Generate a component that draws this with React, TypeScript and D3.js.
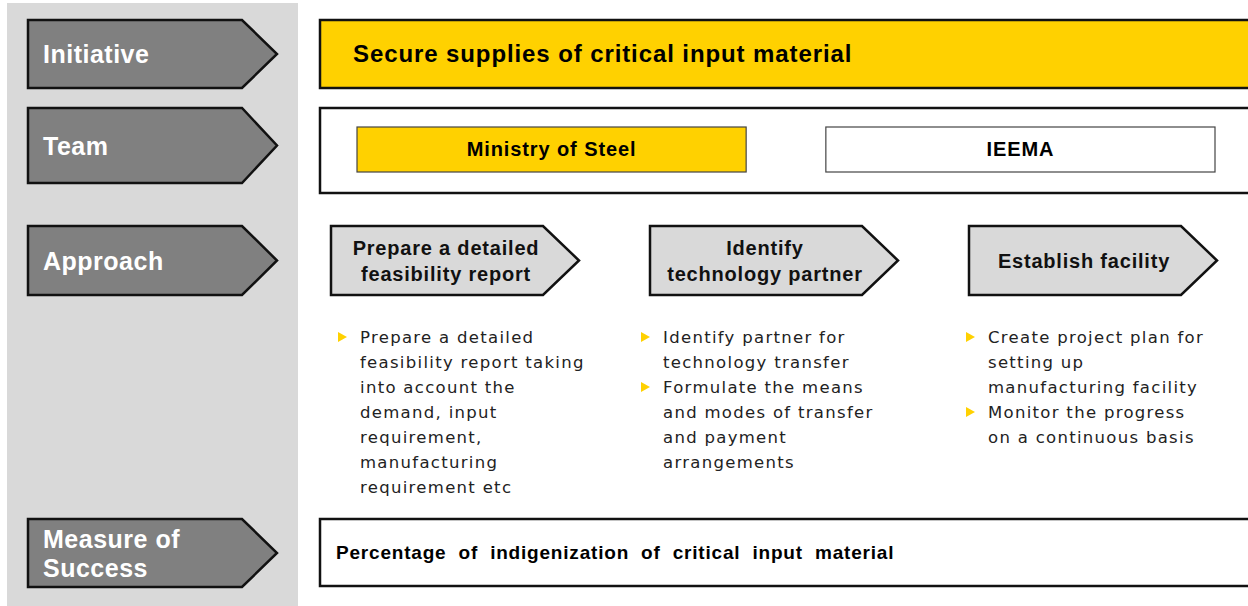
import * as d3 from 'd3';
import React from 'react';

// rows of the left-hand grey panel
const rowLabels = [['Initiative'], ['Team'], ['Approach'], ['Measure of', 'Success']];
const initiative = 'Secure supplies of critical input material';
const teams = ['Ministry of Steel', 'IEEMA'];
const teamFills = ['#FFD100', '#FFFFFF'];
const steps = [
  ['Prepare a detailed', 'feasibility report'],
  ['Identify', 'technology partner'],
  ['Establish facility'],
];
const stepBullets = [
  [['Prepare a detailed', 'feasibility report taking', 'into account the', 'demand, input', 'requirement,', 'manufacturing', 'requirement etc']],
  [['Identify partner for', 'technology transfer'], ['Formulate the means', 'and modes of transfer', 'and payment', 'arrangements']],
  [['Create project plan for', 'setting up', 'manufacturing facility'], ['Monitor the progress', 'on a continuous basis']],
];
const measure = 'Percentage of indigenization of critical input material';

const W = 1248;
const H = 606;
const YELLOW = '#FFD100';
const BOLD = '"Liberation Sans", Arial, sans-serif';
const rowY = [20, 108, 226, 519];
const rowH = [68, 75, 69, 68];
const bulletX = [338, 641, 966];

const line = d3.line();
function chevron(x: number, y: number, w: number, h: number, d: number) {
  return line([[x, y], [x + w - d, y], [x + w, y + h / 2], [x + w - d, y + h], [x, y + h]]) + 'Z';
}

export default function App() {
  const stepX = d3.scaleBand<number>().domain(d3.range(steps.length)).range([331, 331 + 319 * 3]);
  const teamX = d3.scaleBand<number>().domain(d3.range(teams.length)).range([357, 1215]).paddingInner(0.17);

  return (
    <div style={{ position: 'absolute', left: 0, top: 0 }}>
      <svg width={W} height={H} style={{ display: 'block', background: '#fff' }}>
        <rect x={7} y={3} width={291} height={H} fill="#D9D9D9" />
        {rowLabels.map((lbl, i) => (
          <g key={i}>
            <path d={chevron(28, rowY[i], 249, rowH[i], 35)} fill="#808080" stroke="#111" strokeWidth={2.5} strokeLinejoin="miter" />
            {lbl.map((t, j) => (
              <text key={j} x={43} y={rowY[i] + rowH[i] / 2 + 9 + (j - (lbl.length - 1) / 2) * 29}
                fill="#fff" fontFamily={BOLD} fontWeight="bold" fontSize={25} letterSpacing={0.5}>{t}</text>
            ))}
          </g>
        ))}

        {/* initiative */}
        <rect x={320} y={20} width={960} height={68} fill={YELLOW} stroke="#111" strokeWidth={2.5} />
        <text x={353} y={62} fontFamily={BOLD} fontWeight="bold" fontSize={24} letterSpacing={0.9} fill="#000">{initiative}</text>

        {/* team */}
        <rect x={320} y={108} width={960} height={85} fill="#fff" stroke="#111" strokeWidth={2.5} />
        {teams.map((t, i) => (
          <g key={t}>
            <rect x={teamX(i)} y={127} width={teamX.bandwidth()} height={45} fill={teamFills[i]} stroke="#444" strokeWidth={1.2} />
            <text x={(teamX(i) as number) + teamX.bandwidth() / 2} y={156} textAnchor="middle"
              fontFamily={BOLD} fontWeight="bold" fontSize={20} letterSpacing={0.9} fill="#000">{t}</text>
          </g>
        ))}

        {/* approach */}
        {steps.map((s, i) => {
          const x = stepX(i) as number;
          const bx = bulletX[i];
          return (
            <g key={i}>
              <path d={chevron(x, 226, 248, 69, 36)} fill="#D9D9D9" stroke="#111" strokeWidth={2.5} />
              {s.map((t, j) => (
                <text key={j} x={x + 115} y={268 + (j - (s.length - 1) / 2) * 26} textAnchor="middle"
                  fontFamily={BOLD} fontWeight="bold" fontSize={20} letterSpacing={0.8} fill="#111">{t}</text>
              ))}
              {(() => {
                let ln = 0;
                return stepBullets[i].map((b, k) => {
                  const start = ln;
                  ln += b.length;
                  return (
                    <g key={k}>
                      <path d={line([[bx, 332 + start * 25], [bx + 9, 337 + start * 25], [bx, 342 + start * 25]]) + 'Z'} fill={YELLOW} />
                      {b.map((t, m) => (
                        <text key={m} x={bx + 22} y={343 + (start + m) * 25}
                          fontFamily='"DejaVu Sans", sans-serif' fontSize={16.5} letterSpacing={1.3} fill="#222">{t}</text>
                      ))}
                    </g>
                  );
                });
              })()}
            </g>
          );
        })}

        {/* measure of success */}
        <rect x={320} y={519} width={960} height={67} fill="#fff" stroke="#111" strokeWidth={2.5} />
        <text x={336} y={559} fontFamily={BOLD} fontWeight="bold" fontSize={19} letterSpacing={0.8} wordSpacing={6} fill="#000">{measure}</text>
      </svg>
    </div>
  );
}
